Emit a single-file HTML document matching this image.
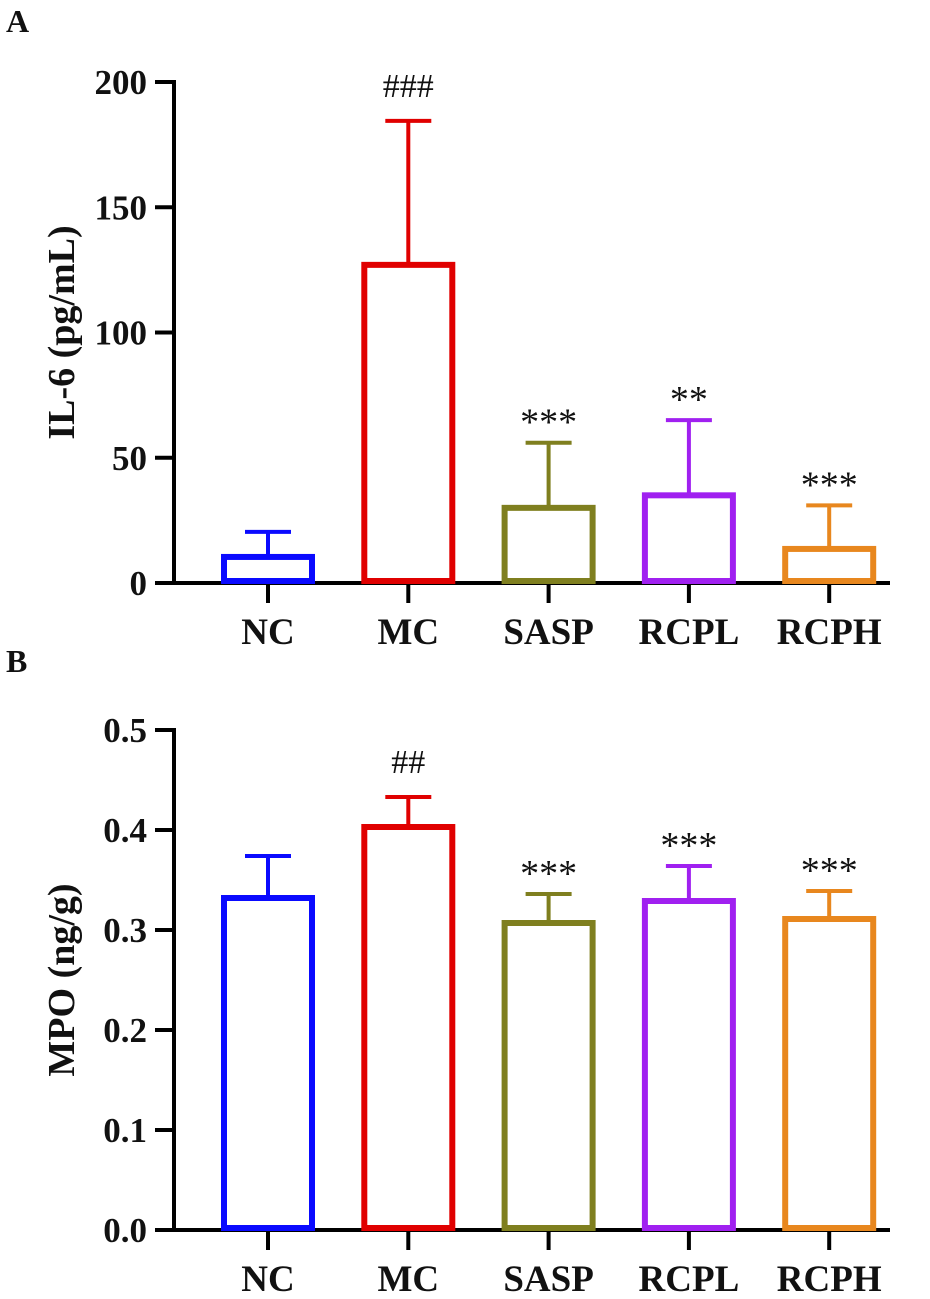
<!DOCTYPE html>
<html><head><meta charset="utf-8"><style>
body{margin:0;background:#fff}
svg text{font-family:"Liberation Serif",serif;font-weight:bold;fill:#111}
</style></head><body>
<svg id="c" width="930" height="1294" viewBox="0 0 930 1294" xmlns="http://www.w3.org/2000/svg">
<text x="6" y="32" font-size="32">A</text>
<text x="6" y="672" font-size="32">B</text>
</svg>
<script>
const categories=["NC","MC","SASP","RCPL","RCPH"];
const colors=["#0a0aff","#e00000","#7f7f1f","#a020f0","#e8871e"];
const il6Means=[10.4,127,30,35,13.6];
const il6Errs=[10,57.5,26,30,17.4];
const il6Sig=["","###","***","**","***"];
const il6Ticks=[0,50,100,150,200];
const mpoMeans=[0.332,0.403,0.307,0.329,0.311];
const mpoErrs=[0.042,0.030,0.029,0.035,0.028];
const mpoSig=["","##","***","***","***"];
const mpoTicks=["0.0","0.1","0.2","0.3","0.4","0.5"];
const NS="http://www.w3.org/2000/svg";
const svg=document.getElementById('c');
function mk(t,a,p){const e=document.createElementNS(NS,t);for(const k in a)e.setAttribute(k,a[k]);(p||svg).appendChild(e);return e;}
function panel(cfg){
  const g=mk('g',{});
  
  
  const y=v=>cfg.y0-(v-cfg.min)/(cfg.max-cfg.min)*(cfg.y0-cfg.y1);
  const x=i=>268+i*140.3;
  const ax=174;
  const yl=mk('line',{x1:ax,y1:cfg.y1-2,x2:ax,y2:cfg.y0+2,stroke:'#000','stroke-width':4},g);
  
  
  const xl=mk('line',{x1:155,y1:cfg.y0,x2:890,y2:cfg.y0,stroke:'#000','stroke-width':4},g);
  
  
  cfg.ticks.forEach(t=>{
    const v=parseFloat(t);
    const tl=mk('line',{x1:155,y1:y(v),x2:ax,y2:y(v),stroke:'#000','stroke-width':4},g);
    
    
    const tx=mk('text',{x:147,y:y(v)+12,'font-size':35,'text-anchor':'end'},g);
    tx.textContent=t;
    
    
  });
  const tt=mk('text',{transform:`translate(74,${(cfg.y0+cfg.y1)/2}) rotate(-90)`,'font-size':38,'text-anchor':'middle'},g);
  tt.textContent=cfg.title;
  
  
  categories.forEach((c,i)=>{
    const cx=x(i),top=y(cfg.means[i]),et=y(cfg.means[i]+cfg.errs[i]);
    const xt=mk('line',{x1:cx,y1:cfg.y0,x2:cx,y2:cfg.y0+20,stroke:'#000','stroke-width':4},g);
    
    
    const lb=mk('text',{x:cx,y:cfg.y0+61,'font-size':37,'text-anchor':'middle'},g);
    lb.textContent=c;
    
    
    const eb=mk('path',{d:`M${cx} ${top}V${et}M${cx-23} ${et}H${cx+23}`,stroke:colors[i],'stroke-width':4,fill:'none'},g);
    
    
    const r=mk('rect',{x:cx-44,y:top,width:88,height:cfg.y0-2-top,fill:'#fff',stroke:colors[i],'stroke-width':6},g);
    
    
    if(cfg.sig[i]){
      const isH=cfg.sig[i][0]=='#';
      const s=mk('text',{x:cx,y:et-(isH?24:8),'font-size':isH?34:38,'text-anchor':'middle',style:'font-weight:normal'},g);
      s.textContent=cfg.sig[i];
      
      
    }
  });
}
panel({name:'panel-a-il6',y0:583,y1:82,min:0,max:200,ticks:il6Ticks.map(String),means:il6Means,errs:il6Errs,sig:il6Sig,title:'IL-6 (pg/mL)'});
panel({name:'panel-b-mpo',y0:1230,y1:730,min:0,max:0.5,ticks:mpoTicks,means:mpoMeans,errs:mpoErrs,sig:mpoSig,title:'MPO (ng/g)'});
</script>
</body></html>
